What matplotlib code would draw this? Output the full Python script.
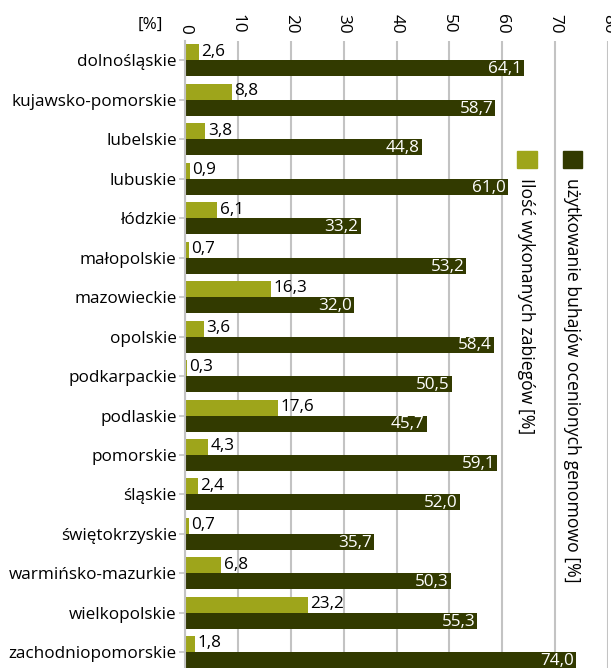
import matplotlib.pyplot as plt
from matplotlib.patches import Rectangle
import numpy as np

plt.rcParams['font.family'] = ['Open Sans', 'DejaVu Sans']

regions = ['dolnośląskie', 'kujawsko-pomorskie', 'lubelskie', 'lubuskie', 'łódzkie',
           'małopolskie', 'mazowieckie', 'opolskie', 'podkarpackie', 'podlaskie',
           'pomorskie', 'śląskie', 'świętokrzyskie', 'warmińsko-mazurkie',
           'wielkopolskie', 'zachodniopomorskie']
zabiegi = [2.6, 8.8, 3.8, 0.9, 6.1, 0.7, 16.3, 3.6, 0.3, 17.6, 4.3, 2.4, 0.7, 6.8, 23.2, 1.8]
genomowo = [64.1, 58.7, 44.8, 61.0, 33.2, 53.2, 32.0, 58.4, 50.5, 45.7, 59.1, 52.0, 35.7, 50.3, 55.3, 74.0]

col_light = '#9ea51b'
col_dark = '#323a00'
grid_col = '#c3c3c3'
fs = 12.3

W, H = 611, 668
fig = plt.figure(figsize=(W / 100, H / 100), dpi=100)
# axes spans from y=40.75px to 672px (slightly below the figure edge)
top_px, bot_px = 40.75, 672
ax = fig.add_axes([185 / W, (H - bot_px) / H, (608 - 185) / W, (bot_px - top_px) / H])

y = np.arange(len(regions))
h = 0.405
ax.barh(y - h / 2, zabiegi, height=h, color=col_light)
ax.barh(y + h / 2, genomowo, height=h, color=col_dark)

for i in range(len(regions)):
    ax.text(zabiegi[i] + 0.5, y[i] - h / 2 - 0.02, f"{zabiegi[i]:.1f}".replace('.', ','),
            ha='left', va='center', fontsize=fs, color='black')
    ax.text(genomowo[i] - 0.4, y[i] + h / 2 + 0.02, f"{genomowo[i]:.1f}".replace('.', ','),
            ha='right', va='center', fontsize=fs, color='white')

ax.set_xlim(0, 80)
ax.set_ylim(len(regions) - 0.5, -0.5)
ax.set_yticks(y)
ax.set_yticklabels(regions, fontsize=fs)
ax.xaxis.tick_top()
ax.set_xticks(np.arange(0, 81, 10))
ax.set_xticklabels([str(v) for v in range(0, 81, 10)], rotation=-90, fontsize=fs)
ax.tick_params(axis='x', length=0, pad=5)
ax.tick_params(axis='y', length=4, color=grid_col, width=1.2, pad=2)
for s in ['top', 'right', 'bottom']:
    ax.spines[s].set_visible(False)
ax.spines['left'].set_color(grid_col)
ax.spines['left'].set_linewidth(1.5)
ax.set_axisbelow(True)
ax.grid(axis='x', color=grid_col, linewidth=1.5)
ax.grid(axis='y', visible=False)

fig.text(150 / W, 1 - 25 / H, '[%]', ha='center', va='center', fontsize=fs)

# legend, rotated like in the original
fig.patches.append(Rectangle((563 / W, 1 - 168 / H), 19 / W, 17 / H,
                             transform=fig.transFigure, color=col_dark))
fig.patches.append(Rectangle((517 / W, 1 - 168 / H), 20 / W, 17 / H,
                             transform=fig.transFigure, color=col_light))
fig.text(572 / W, 1 - 178 / H, 'użytkowanie buhajów ocenionych genomowo [%]',
         rotation=-90, ha='center', va='top', fontsize=12.7)
fig.text(526 / W, 1 - 178 / H, 'Ilość wykonanych zabiegów [%]',
         rotation=-90, ha='center', va='top', fontsize=12.7)

fig.savefig('out.png', dpi=100)
